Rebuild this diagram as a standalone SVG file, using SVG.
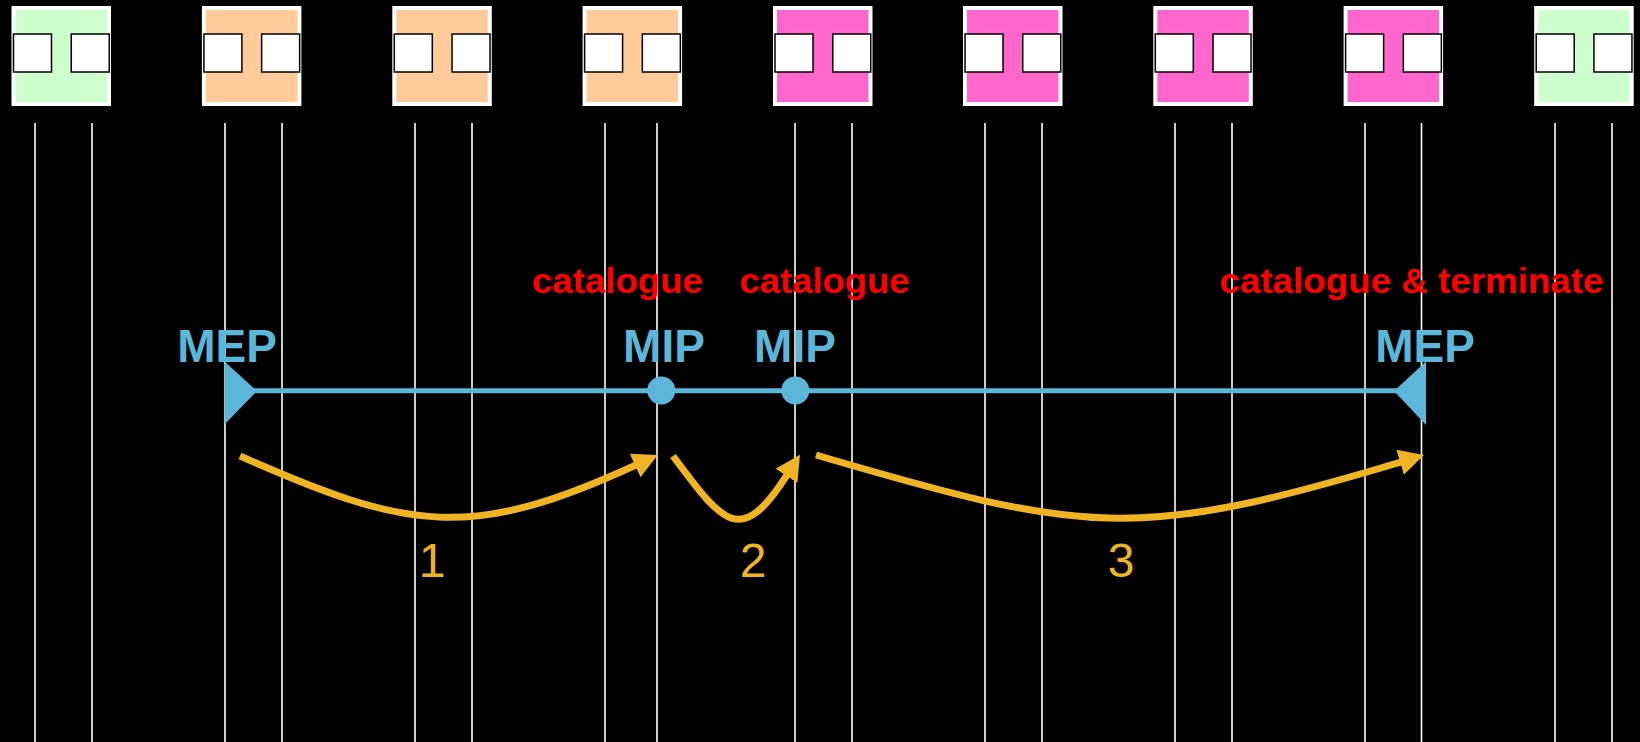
<svg xmlns="http://www.w3.org/2000/svg" width="1640" height="742" viewBox="0 0 1640 742">
<style>
.box{stroke:#fff;stroke-width:4}
.g{fill:#CCFFCC}.o{fill:#FFCC99}.m{fill:#FF66CC}
.port{fill:#fff;stroke:#000;stroke-width:1.5}
.life{stroke:#fff;stroke-width:1.6}
.lbl{font-family:"Liberation Sans",Arial,sans-serif;font-weight:bold;font-size:46px;fill:#5BB6DA;text-anchor:middle}
.red{font-family:"Liberation Sans",Arial,sans-serif;font-weight:bold;font-size:35px;fill:#FF0000}
.num{font-family:"Liberation Sans",Arial,sans-serif;font-size:48px;fill:#F0B323;text-anchor:middle}
.arr{fill:none;stroke:#F0B323;stroke-width:7;marker-end:url(#ah)}
</style>
<defs>
<marker id="ah" markerUnits="userSpaceOnUse" markerWidth="28" markerHeight="28" refX="1" refY="13" orient="auto" viewBox="0 0 28 26">
<path d="M0,0 L25,13 L0,26 z" fill="#F0B323"/>
</marker>
<g id="ports">
<rect class="port" x="2" y="34" width="38" height="38"/>
<rect class="port" x="59.75" y="34" width="38" height="38"/>
</g>
</defs>
<rect x="0" y="0" width="1640" height="742" fill="#000"/>
<g id="node1" transform="translate(11.5,0)"><rect class="box g" x="2" y="8" width="95.5" height="96"/><use href="#ports"/></g>
<g id="node2" transform="translate(201.9,0)"><rect class="box o" x="2" y="8" width="95.5" height="96"/><use href="#ports"/></g>
<g id="node3" transform="translate(392.3,0)"><rect class="box o" x="2" y="8" width="95.5" height="96"/><use href="#ports"/></g>
<g id="node4" transform="translate(582.6,0)"><rect class="box o" x="2" y="8" width="95.5" height="96"/><use href="#ports"/></g>
<g id="node5" transform="translate(773,0)"><rect class="box m" x="2" y="8" width="95.5" height="96"/><use href="#ports"/></g>
<g id="node6" transform="translate(963,0)"><rect class="box m" x="2" y="8" width="95.5" height="96"/><use href="#ports"/></g>
<g id="node7" transform="translate(1153.3,0)"><rect class="box m" x="2" y="8" width="95.5" height="96"/><use href="#ports"/></g>
<g id="node8" transform="translate(1343.6,0)"><rect class="box m" x="2" y="8" width="95.5" height="96"/><use href="#ports"/></g>
<g id="node9" transform="translate(1534.2,0)"><rect class="box g" x="2" y="8" width="95.5" height="96"/><use href="#ports"/></g>
<g id="lifelines">
<line class="life" x1="35" y1="123" x2="35" y2="742"/><line class="life" x1="92" y1="123" x2="92" y2="742"/>
<line class="life" x1="225" y1="123" x2="225" y2="742"/><line class="life" x1="282" y1="123" x2="282" y2="742"/>
<line class="life" x1="415" y1="123" x2="415" y2="742"/><line class="life" x1="472" y1="123" x2="472" y2="742"/>
<line class="life" x1="605" y1="123" x2="605" y2="742"/><line class="life" x1="657" y1="123" x2="657" y2="742"/>
<line class="life" x1="795" y1="123" x2="795" y2="742"/><line class="life" x1="852" y1="123" x2="852" y2="742"/>
<line class="life" x1="985" y1="123" x2="985" y2="742"/><line class="life" x1="1042" y1="123" x2="1042" y2="742"/>
<line class="life" x1="1175" y1="123" x2="1175" y2="742"/><line class="life" x1="1232" y1="123" x2="1232" y2="742"/>
<line class="life" x1="1365" y1="123" x2="1365" y2="742"/><line class="life" x1="1421.5" y1="123" x2="1421.5" y2="742"/>
<line class="life" x1="1555" y1="123" x2="1555" y2="742"/><line class="life" x1="1612" y1="123" x2="1612" y2="742"/>
</g>
<g id="ma">
<line x1="250" y1="390.7" x2="1400" y2="390.7" stroke="#5BB6DA" stroke-width="5"/>
<polygon points="224.5,361.5 224.5,424.5 257,391" fill="#5BB6DA"/>
<polygon points="1426,361.5 1426,425 1394,391" fill="#5BB6DA"/>
<circle cx="661.3" cy="390.5" r="14" fill="#5BB6DA"/>
<circle cx="795.3" cy="390.5" r="14" fill="#5BB6DA"/>
<text class="lbl" x="227" y="362">MEP</text>
<text class="lbl" x="664" y="362">MIP</text>
<text class="lbl" x="795" y="362">MIP</text>
<text class="lbl" x="1425" y="362">MEP</text>
</g>
<g id="actions">
<text class="red" x="532" y="293" textLength="171" lengthAdjust="spacingAndGlyphs">catalogue</text>
<text class="red" x="739.5" y="293" textLength="170" lengthAdjust="spacingAndGlyphs">catalogue</text>
<text class="red" x="1219.5" y="293" textLength="384" lengthAdjust="spacingAndGlyphs">catalogue &amp; terminate</text>
</g>
<g id="connectors">
<path class="arr" d="M240,456 C409,531 471,541 636,465"/>
<path class="arr" d="M673,456 C724.6,525.6 741.1,546.2 787,475"/>
<path class="arr" d="M816,455 C1084.6,533.7 1134.7,542.1 1401,462"/>
<text class="num" x="432" y="577">1</text>
<text class="num" x="753" y="577">2</text>
<text class="num" x="1121" y="577">3</text>
</g>
</svg>
